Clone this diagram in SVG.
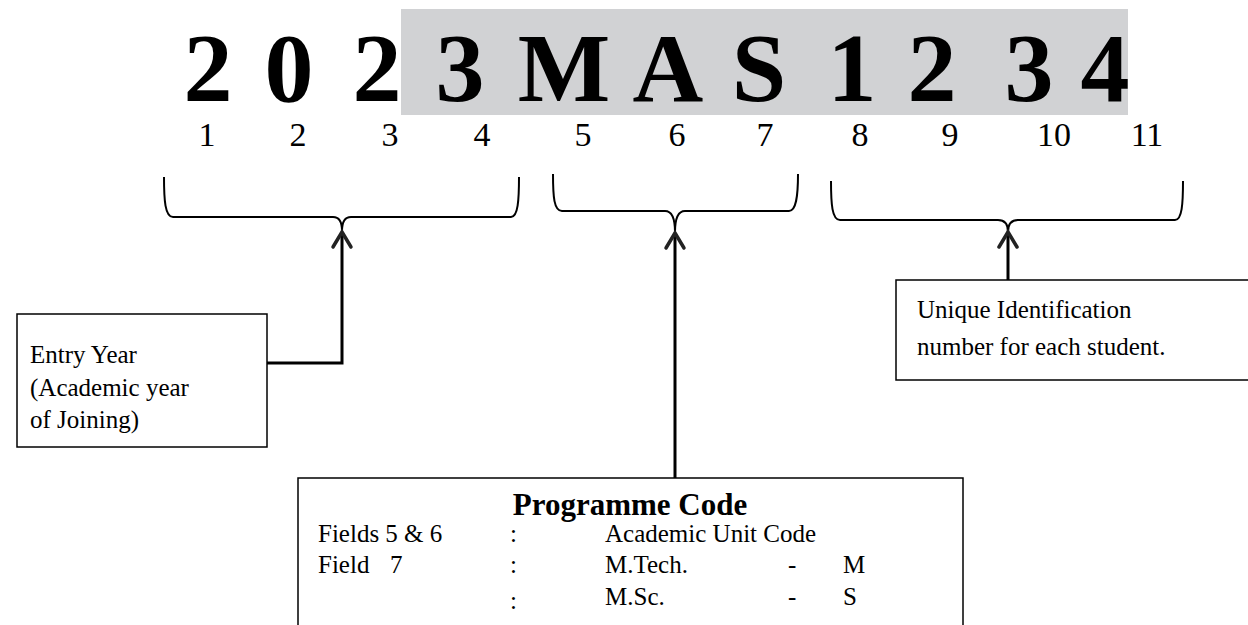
<svg xmlns="http://www.w3.org/2000/svg" width="1248" height="625" viewBox="0 0 1248 625">
<style>
.big{font-family:"Liberation Serif","Times New Roman",serif;font-weight:bold;font-size:98px;fill:#000;text-anchor:middle}
.num{font-family:"Liberation Serif","Times New Roman",serif;font-size:34px;fill:#000;text-anchor:middle}
.t{font-family:"Liberation Serif","Times New Roman",serif;font-size:25px;fill:#000}
.tb{font-family:"Liberation Serif","Times New Roman",serif;font-size:31px;font-weight:bold;fill:#000}
.box{fill:#fff;stroke:#000;stroke-width:1.5}
.brace{fill:none;stroke:#000;stroke-width:2}
.line{fill:none;stroke:#000;stroke-width:3}
.head{fill:none;stroke:#222;stroke-width:3.5;stroke-linecap:round}
</style>
<rect x="401" y="9" width="727" height="106" fill="#d1d2d4"/>
<g id="code">
<text class="big" x="208" y="101">2</text>
<text class="big" x="289" y="101">0</text>
<text class="big" x="377" y="101">2</text>
<text class="big" x="460" y="101">3</text>
<text class="big" x="564" y="101">M</text>
<text class="big" x="668" y="101">A</text>
<text class="big" x="759" y="101">S</text>
<text class="big" x="852" y="101">1</text>
<text class="big" x="932" y="101">2</text>
<text class="big" x="1029" y="101">3</text>
<text class="big" x="1105" y="101">4</text>
</g>
<g id="positions">
<text class="num" x="207" y="146">1</text>
<text class="num" x="298" y="146">2</text>
<text class="num" x="390" y="146">3</text>
<text class="num" x="482" y="146">4</text>
<text class="num" x="583" y="146">5</text>
<text class="num" x="677" y="146">6</text>
<text class="num" x="765" y="146">7</text>
<text class="num" x="860" y="146">8</text>
<text class="num" x="950" y="146">9</text>
<text class="num" x="1054" y="146">10</text>
<text class="num" x="1147" y="146">11</text>
</g>
<g id="connectors">
<path class="brace" d="M164,177 C164,200 165,217 173,217 L333,217 C339,217 342,222 342,231 C342,222 345,217 351,217 L511,217 C518,217 519,200 519,177"/>
<path class="brace" d="M553,174 C553,197 554,211 562,211 L665,211 C672,211 675,220 675,232 C675,220 678,211 685,211 L789,211 C796,211 798,197 798,174"/>
<path class="brace" d="M831,181 C831,204 832,220 840,220 L998,220 C1005,220 1008,225 1008,232 C1008,225 1011,220 1018,220 L1175,220 C1182,220 1183,204 1183,181"/>
<polyline class="line" points="267,363 342,363 342,233"/>
<line class="line" x1="675" y1="234" x2="675" y2="478"/>
<line class="line" x1="1008" y1="234" x2="1008" y2="280"/>
<polyline class="head" points="333,247 342,232 351,247"/>
<polyline class="head" points="666,248 675,233 684,248"/>
<polyline class="head" points="999,247 1008,232 1017,247"/>
</g>
<g id="entry-year">
<rect class="box" x="17" y="314" width="250" height="133"/>
<text class="t" x="30" y="363">Entry Year</text>
<text class="t" x="30" y="396">(Academic year</text>
<text class="t" x="30" y="428">of Joining)</text>
</g>
<g id="unique-id">
<rect class="box" x="896" y="280" width="360" height="100"/>
<text class="t" x="917" y="318">Unique Identification</text>
<text class="t" x="917" y="355">number for each student.</text>
</g>
<g id="programme-code">
<rect class="box" x="298" y="478" width="665" height="160"/>
<text class="tb" x="630" y="515" text-anchor="middle">Programme Code</text>
<text class="t" x="318" y="542">Fields 5 &amp; 6</text>
<text class="t" x="510" y="542">:</text>
<text class="t" x="605" y="542">Academic Unit Code</text>
<text class="t" x="318" y="573">Field<tspan x="390">7</tspan></text>
<text class="t" x="510" y="573">:</text>
<text class="t" x="605" y="573">M.Tech.</text>
<text class="t" x="788" y="573">-</text>
<text class="t" x="843" y="573">M</text>
<text class="t" x="510" y="609">:</text>
<text class="t" x="605" y="605">M.Sc.</text>
<text class="t" x="788" y="605">-</text>
<text class="t" x="843" y="605">S</text>
</g>
</svg>
